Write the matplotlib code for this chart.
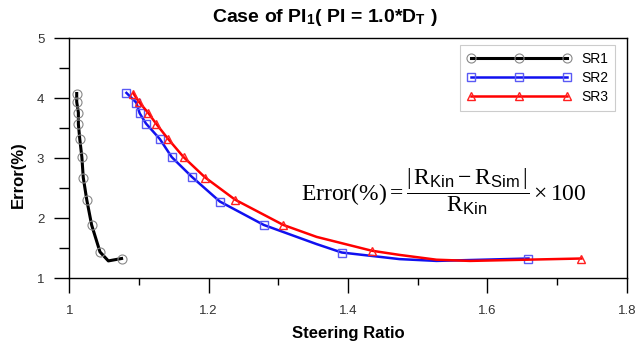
import matplotlib
matplotlib.use("Agg")
import matplotlib.pyplot as plt
from matplotlib.ticker import MultipleLocator

plt.rcParams['font.family'] = ['Liberation Sans', 'DejaVu Sans']
plt.rcParams['mathtext.fontset'] = 'custom'
plt.rcParams['mathtext.rm'] = 'Liberation Serif'
plt.rcParams['mathtext.it'] = 'Liberation Serif:italic'
plt.rcParams['mathtext.sf'] = 'Liberation Sans'
plt.rcParams['mathtext.bf'] = 'Liberation Serif:bold'

# Data (extra unmarked points trace the curve bottoms)
sr1_x = [1.0106, 1.0106, 1.013, 1.013, 1.015, 1.018, 1.020, 1.025, 1.032, 1.044, 1.056, 1.075]
sr1_y = [4.08, 3.94, 3.76, 3.57, 3.32, 3.02, 2.68, 2.31, 1.89, 1.44, 1.29, 1.33]
sr1_marks = [0, 1, 2, 3, 4, 5, 6, 7, 8, 9, 11]

sr2_x = [1.082, 1.096, 1.101, 1.110, 1.130, 1.147, 1.176, 1.216, 1.279, 1.355, 1.391, 1.474, 1.527, 1.659]
sr2_y = [4.09, 3.93, 3.75, 3.58, 3.32, 3.02, 2.69, 2.28, 1.89, 1.57, 1.43, 1.32, 1.29, 1.33]
sr2_marks = [0, 1, 2, 3, 4, 5, 6, 7, 8, 10, 13]

sr3_x = [1.092, 1.100, 1.113, 1.125, 1.142, 1.164, 1.195, 1.238, 1.307, 1.355, 1.434, 1.474, 1.527, 1.575, 1.735]
sr3_y = [4.08, 3.94, 3.76, 3.57, 3.32, 3.02, 2.68, 2.31, 1.89, 1.69, 1.46, 1.39, 1.31, 1.29, 1.33]
sr3_marks = [0, 1, 2, 3, 4, 5, 6, 7, 8, 10, 14]

fig = plt.figure(figsize=(6.36, 3.43), dpi=100)
ax = fig.add_axes([0.109, 0.1886, 0.8764, 0.6997])

ax.plot(sr1_x, sr1_y, color='black', lw=2.2, marker='o', markersize=6.5,
        markerfacecolor='none', markeredgecolor='#888888', markeredgewidth=0.8,
        markevery=sr1_marks, label='SR1')
ax.plot(sr2_x, sr2_y, color='#1010f0', lw=1.8, marker='s', markersize=6,
        markerfacecolor='none', markeredgecolor='#5a5af5', markeredgewidth=1.0,
        markevery=sr2_marks, label='SR2')
ax.plot(sr3_x, sr3_y, color='#ff0000', lw=1.8, marker='^', markersize=6,
        markerfacecolor='none', markeredgecolor='#ff2020', markeredgewidth=1.0,
        markevery=sr3_marks, label='SR3')

ax.set_xlim(1.0, 1.8)
ax.set_ylim(1, 5)
ax.xaxis.set_minor_locator(MultipleLocator(0.1))
ax.yaxis.set_minor_locator(MultipleLocator(0.5))
ax.set_xticks([1.0, 1.2, 1.4, 1.6, 1.8])
ax.set_xticklabels(['1', '1.2', '1.4', '1.6', '1.8'])
ax.set_yticks([1, 2, 3, 4, 5])
ax.set_yticklabels(['1', '2', '3', '4', '5'])
ax.tick_params(which='major', direction='out', length=11, width=1.0,
               labelsize=9.5, labelcolor='#333333', pad=6)
ax.tick_params(axis='x', which='major', pad=8)
ax.tick_params(axis='y', which='major', pad=7)
ax.tick_params(which='minor', direction='out', length=5, width=1.0)
ax.tick_params(axis='y', which='minor', length=7)
for s in ax.spines.values():
    s.set_linewidth(1.0)

ax.set_title(r'Case of PI$_\mathregular{1}$( PI = 1.0*D$_\mathregular{T}$ )',
             fontsize=14, fontweight='bold', pad=12, x=0.459)
ax.set_xlabel('Steering Ratio', fontsize=12, fontweight='bold')
ax.xaxis.set_label_coords(0.5, -0.2)
ax.xaxis.label.set_va('top')
ax.set_ylabel('Error(%)', fontsize=12, fontweight='bold')
ax.yaxis.set_label_coords(-0.078, 0.43)

ax.text(0.415, 0.36,
        r'$\mathrm{Error(\%)} = \dfrac{|\,\mathrm{R}_{\mathsf{Kin}} - \mathrm{R}_{\mathsf{Sim}}\,|}{\mathrm{R}_{\mathsf{Kin}}} \times 100$',
        transform=ax.transAxes, fontsize=17, ha='left', va='center')

leg = ax.legend(loc='upper right', bbox_to_anchor=(0.979, 0.972), borderaxespad=0,
                fontsize=10, handlelength=7.5, numpoints=3, labelspacing=0.35,
                fancybox=False, edgecolor='#cccccc', framealpha=1,
                borderpad=0.5, handletextpad=0.7)
leg.get_frame().set_linewidth(0.8)

fig.savefig('out.png', dpi=100)
